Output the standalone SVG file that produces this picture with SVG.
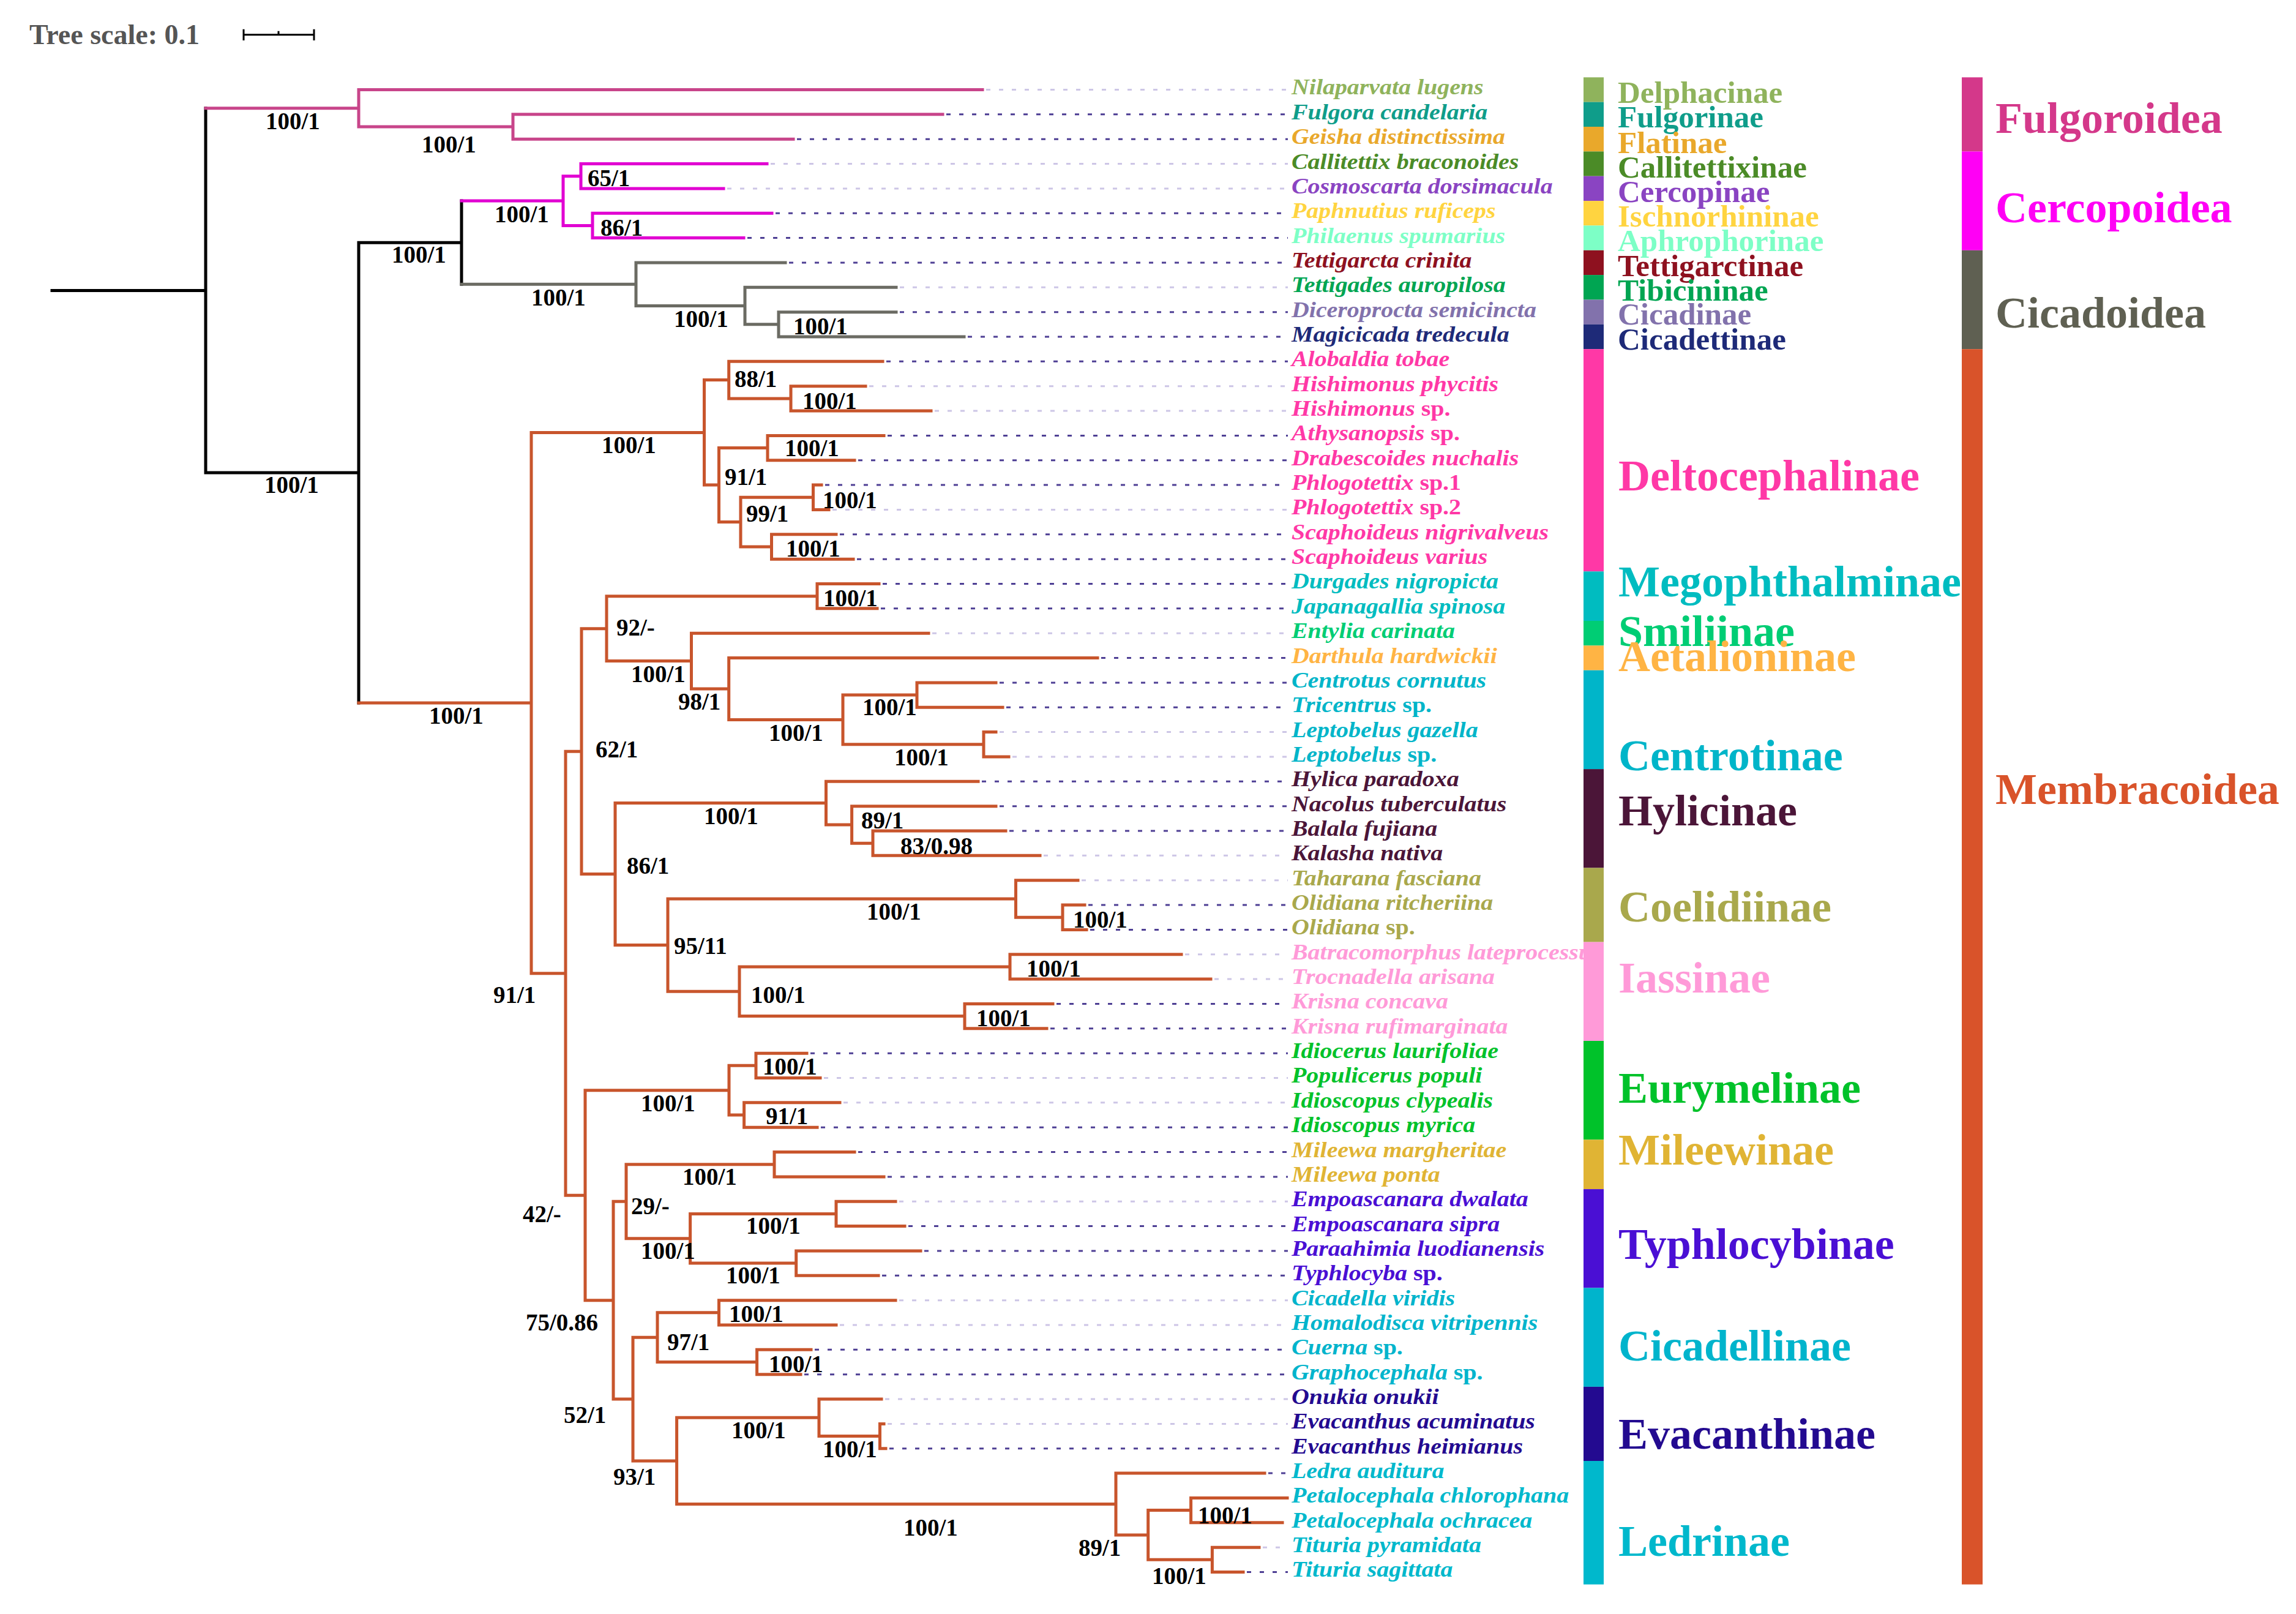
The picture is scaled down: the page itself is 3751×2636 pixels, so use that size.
<svg xmlns="http://www.w3.org/2000/svg" width="3751" height="2636" viewBox="0 0 3751 2636">
<style>
.t{font-family:"Liberation Serif","Times New Roman",serif;font-weight:bold}
.sp{font-family:"Liberation Serif","Times New Roman",serif;font-weight:bold;font-style:italic;font-size:35px}
.up{font-style:normal}
.bs{font-family:"Liberation Serif","Times New Roman",serif;font-weight:bold;font-size:39px;fill:#000}
.sf{font-size:51px}
.sl{font-size:72px}
.br{fill:none;stroke-width:5;stroke-linecap:square}
.blk{stroke:#000}
.fulgb{stroke:#c8458a}
.cercb{stroke:#e100d2}
.cicb{stroke:#6b6b63}
.memb{stroke:#c8552c}
.ld{fill:none;stroke-width:3;stroke-dasharray:7 14}
.dk{stroke:#4e3f94}
.lt{stroke:#cdc6e6}
.delph{fill:#8fb35c}.fulg{fill:#0f9d8a}.flat{fill:#e9a82b}.calli{fill:#4b8b27}.cerc{fill:#8a44c2}
.ischn{fill:#ffd440}.aphro{fill:#7dffc6}.tettig{fill:#8e111f}.tibic{fill:#00a552}.cicad{fill:#8272ac}
.cicadet{fill:#1e2a78}.delto{fill:#ff38a6}.mego{fill:#00bcc0}.smil{fill:#00cd74}.aet{fill:#ffb444}
.centro{fill:#00b5c9}.hyl{fill:#4b1538}.coel{fill:#a9a84c}.iass{fill:#ff9ad8}.eury{fill:#00c22a}
.mil{fill:#e0b434}.typh{fill:#4a0fd4}.cicadel{fill:#00b4cc}.evac{fill:#230a90}.ledr{fill:#00b8cc}
.sFul{fill:#d4388a}.sCer{fill:#ff00f5}.sCic{fill:#5f6052}.sMem{fill:#d9532a}
</style>
<rect width="3751" height="2636" fill="#fff"/>
<g id="tree-scale">
<text class="t" x="48" y="72" font-size="46" fill="#555">Tree scale: 0.1</text>
<path d="M398,56.7 H513 M398,47.7 V66 M513,47.7 V66 M455,50.7 V56.7" stroke="#000" stroke-width="3" fill="none"/>
</g>
<g id="connectors">
<g id="leaders">
<path class="ld lt" d="M1611,146.5H2104M1259,267.55H2104M1188,307.9H2104M1470,469.3H2104M1420,630.7H2104M1527,671.05H2104M1360,832.45H2104M1523,1034.2H2104M1633,1195.6H2104M1654,1235.95H2104M1705,1397.35H2104M1767,1437.7H2104M1936,1558.75H2104M1984,1599.1H2104M1346,1760.5H2104M1378,1800.85H2104M1469,1962.25H2104M1469,2123.65H2104M1372,2164H2104M1446,2285.05H2104M1450,2325.4H2104M2063,2527.15H2104"/>
<path class="ld dk" d="M1546,186.85H2104M1302,227.2H2104M1267,348.25H2104M1221,388.6H2104M1289,428.95H2104M1470,509.65H2104M1581,550H2104M1448,590.35H2104M1450,711.4H2104M1402,751.75H2104M1348,792.1H2104M1372,872.8H2104M1400,913.15H2104M1442,953.5H2104M1439,993.85H2104M1799,1074.55H2104M1633,1114.9H2104M1644,1155.25H2104M1604,1276.3H2104M1633,1316.65H2104M1649,1357H2104M1778,1478.05H2104M1781,1518.4H2104M1726,1639.45H2104M1716,1679.8H2104M1324,1720.15H2104M1341,1841.2H2104M1402,1881.55H2104M1450,1921.9H2104M1484,2002.6H2104M1510,2042.95H2104M1441,2083.3H2104M1331,2204.35H2104M1314,2244.7H2104M1453,2365.75H2104M2072,2406.1H2104M2037,2567.5H2104"/>
</g>
<path id="branches-root" class="br blk" d="M85,474.4H336M336,176.75V772.1M336,772.1H586M586,396.2V1148M586,396.2H754M754,328.1V464.3"/>
<path id="branches-fulgoroidea" class="br fulgb" d="M336,176.75H586M586,146.5V207M586,146.5H1605M586,207H838M838,186.85V227.2M838,186.85H1540M838,227.2H1296"/>
<path id="branches-cercopoidea" class="br cercb" d="M754,328.1H920M920,287.7V368.4M920,287.7H949M949,267.55V307.9M949,267.55H1253M949,307.9H1182M920,368.4H968M968,348.25V388.6M968,348.25H1261M968,388.6H1215"/>
<path id="branches-cicadoidea" class="br cicb" d="M754,464.3H1039M1039,428.95V499.6M1039,428.95H1283M1039,499.6H1217M1217,469.3V529.8M1217,469.3H1464M1217,529.8H1272M1272,509.65V550M1272,509.65H1464M1272,550H1575"/>
<path id="branches-membracoidea" class="br memb" d="M586,1148H868M868,706.4V1589.7M868,706.4H1150.5M1150.5,620.6V792.1M1150.5,620.6H1190.7M1190.7,590.35V650.9M1190.7,590.35H1442M1190.7,650.9H1292M1292,630.7V671.05M1292,630.7H1414M1292,671.05H1521M1150.5,792.1H1174.5M1174.5,731.6V852.6M1174.5,731.6H1254M1254,711.4V751.75M1254,711.4H1444M1254,751.75H1396M1174.5,852.6H1210M1210,812.3V893M1210,812.3H1328.5M1328.5,792.1V832.45M1328.5,792.1H1342M1328.5,832.45H1354M1210,893H1260.5M1260.5,872.8V913.15M1260.5,872.8H1366M1260.5,913.15H1394
M868,1589.7H924M924,1227.2V1952.2M924,1227.2H950M950,1026.7V1427.6M950,1026.7H991M991,973.7V1079.6M991,973.7H1335M1335,953.5V993.85M1335,953.5H1436M1335,993.85H1433M991,1079.6H1129.5M1129.5,1034.2V1125M1129.5,1034.2H1517M1129.5,1125H1190.7M1190.7,1074.55V1175.4M1190.7,1074.55H1793M1190.7,1175.4H1377M1377,1135.1V1215.8M1377,1135.1H1498M1498,1114.9V1155.25M1498,1114.9H1627M1498,1155.25H1638M1377,1215.8H1607M1607,1195.6V1235.95M1607,1195.6H1627M1607,1235.95H1648
M950,1427.6H1005M1005,1311.6V1543.6M1005,1311.6H1349.5M1349.5,1276.3V1346.9M1349.5,1276.3H1598M1349.5,1346.9H1391.6M1391.6,1316.65V1377.2M1391.6,1316.65H1627M1391.6,1377.2H1426M1426,1357V1397.35M1426,1357H1643M1426,1397.35H1699M1005,1543.6H1091M1091,1468V1619.3M1091,1468H1659.5M1659.5,1437.7V1498.2M1659.5,1437.7H1761M1659.5,1498.2H1736M1736,1478.05V1518.4M1736,1478.05H1772M1736,1518.4H1775M1091,1619.3H1208M1208,1578.9V1659.6M1208,1578.9H1650M1650,1558.75V1599.1M1650,1558.75H1930M1650,1599.1H1978M1208,1659.6H1576M1576,1639.45V1679.8M1576,1639.45H1720M1576,1679.8H1710
M924,1952.2H956M956,1780.7V2123.7M956,1780.7H1191M1191,1740.3V1821M1191,1740.3H1235M1235,1720.15V1760.5M1235,1720.15H1318M1235,1760.5H1340M1191,1821H1215.6M1215.6,1800.85V1841.2M1215.6,1800.85H1372M1215.6,1841.2H1335
M956,2123.7H1002M1002,1962.3V2285M1002,1962.3H1023M1023,1901.7V2022.8M1023,1901.7H1265M1265,1881.55V1921.9M1265,1881.55H1396M1265,1921.9H1444M1023,2022.8H1127.6M1127.6,1982.4V2063.1M1127.6,1982.4H1366M1366,1962.25V2002.6M1366,1962.25H1463M1366,2002.6H1478M1127.6,2063.1H1300.7M1300.7,2042.95V2083.3M1300.7,2042.95H1504M1300.7,2083.3H1435
M1002,2285H1034M1034,2184.2V2385.9M1034,2184.2H1074M1074,2143.8V2224.5M1074,2143.8H1174.5M1174.5,2123.65V2164M1174.5,2123.65H1463M1174.5,2164H1366M1074,2224.5H1236.6M1236.6,2204.35V2244.7M1236.6,2204.35H1325M1236.6,2244.7H1308
M1034,2385.9H1105.6M1105.6,2315.3V2456.5M1105.6,2315.3H1338M1338,2285.05V2345.6M1338,2285.05H1440M1338,2345.6H1437.5M1437.5,2325.4V2365.75M1437.5,2325.4H1444M1437.5,2365.75H1447M1105.6,2456.5H1823M1823,2406.1V2507M1823,2406.1H2066M1823,2507H1875.7M1875.7,2466.6V2547.3M1875.7,2466.6H1945.6M1945.6,2446.45V2486.8M1945.6,2446.45H2103M1945.6,2486.8H2095M1875.7,2547.3H1980.4M1980.4,2527.15V2567.5M1980.4,2527.15H2057M1980.4,2567.5H2031"/>
</g>
<g id="support-values" class="bs">
<text x="434" y="211">100/1</text><text x="689" y="249">100/1</text><text x="960" y="304">65/1</text><text x="808" y="363">100/1</text><text x="981" y="385">86/1</text><text x="640" y="429">100/1</text><text x="868" y="499">100/1</text><text x="1101" y="534">100/1</text><text x="1296" y="546">100/1</text><text x="432" y="805">100/1</text>
<text x="701" y="1182">100/1</text><text x="983" y="740">100/1</text><text x="1200" y="632">88/1</text><text x="1311" y="668">100/1</text><text x="1282" y="745">100/1</text><text x="1184" y="792">91/1</text><text x="1344" y="830">100/1</text><text x="1219" y="852">99/1</text><text x="1284" y="909">100/1</text>
<text x="1345" y="990">100/1</text><text x="1007" y="1038">92/-</text><text x="1031" y="1114">100/1</text><text x="1108" y="1159">98/1</text><text x="1256" y="1210">100/1</text><text x="1409" y="1168">100/1</text><text x="1461" y="1250">100/1</text><text x="973" y="1237">62/1</text>
<text x="1150" y="1346">100/1</text><text x="1407" y="1353">89/1</text><text x="1471" y="1395">83/0.98</text><text x="1024" y="1427">86/1</text><text x="1416" y="1502">100/1</text><text x="1753" y="1515">100/1</text><text x="1101" y="1558">95/11</text><text x="1677" y="1595">100/1</text><text x="1227" y="1638">100/1</text><text x="1595" y="1676">100/1</text><text x="806" y="1638">91/1</text><text x="1246" y="1755">100/1</text>
<text x="1047" y="1815">100/1</text><text x="1251" y="1836">91/1</text><text x="854" y="1996">42/-</text><text x="1115" y="1935">100/1</text><text x="1031" y="1983">29/-</text><text x="1219" y="2015">100/1</text><text x="1047" y="2056">100/1</text><text x="1186" y="2096">100/1</text><text x="859" y="2173">75/0.86</text><text x="1191" y="2159">100/1</text><text x="1090" y="2205">97/1</text><text x="1256" y="2241">100/1</text>
<text x="921" y="2324">52/1</text><text x="1195" y="2349">100/1</text><text x="1344" y="2380">100/1</text><text x="1002" y="2425">93/1</text><text x="1476" y="2508">100/1</text><text x="1762" y="2541">89/1</text><text x="1957" y="2488">100/1</text><text x="1882" y="2587">100/1</text>
</g>
<g id="taxa" class="sp" transform="matrix(1.14 0 0 1 2110 0)">
<g id="leaf-01"><text class="delph" x="0" y="154.5">Nilaparvata lugens</text></g>
<g id="leaf-02"><text class="fulg" x="0" y="194.9">Fulgora candelaria</text></g>
<g id="leaf-03"><text class="flat" x="0" y="235.2">Geisha distinctissima</text></g>
<g id="leaf-04"><text class="calli" x="0" y="275.6">Callitettix braconoides</text></g>
<g id="leaf-05"><text class="cerc" x="0" y="315.9">Cosmoscarta dorsimacula</text></g>
<g id="leaf-06"><text class="ischn" x="0" y="356.3">Paphnutius ruficeps</text></g>
<g id="leaf-07"><text class="aphro" x="0" y="396.6">Philaenus spumarius</text></g>
<g id="leaf-08"><text class="tettig" x="0" y="437">Tettigarcta crinita</text></g>
<g id="leaf-09"><text class="tibic" x="0" y="477.3">Tettigades auropilosa</text></g>
<g id="leaf-10"><text class="cicad" x="0" y="517.7">Diceroprocta semicincta</text></g>
<g id="leaf-11"><text class="cicadet" x="0" y="558">Magicicada tredecula</text></g>
<g id="leaf-12"><text class="delto" x="0" y="598.4">Alobaldia tobae</text></g>
<g id="leaf-13"><text class="delto" x="0" y="638.7">Hishimonus phycitis</text></g>
<g id="leaf-14"><text class="delto" x="0" y="679.1">Hishimonus <tspan class="up">sp.</tspan></text></g>
<g id="leaf-15"><text class="delto" x="0" y="719.4">Athysanopsis <tspan class="up">sp.</tspan></text></g>
<g id="leaf-16"><text class="delto" x="0" y="759.8">Drabescoides nuchalis</text></g>
<g id="leaf-17"><text class="delto" x="0" y="800.1">Phlogotettix <tspan class="up">sp.1</tspan></text></g>
<g id="leaf-18"><text class="delto" x="0" y="840.5">Phlogotettix <tspan class="up">sp.2</tspan></text></g>
<g id="leaf-19"><text class="delto" x="0" y="880.8">Scaphoideus nigrivalveus</text></g>
<g id="leaf-20"><text class="delto" x="0" y="921.2">Scaphoideus varius</text></g>
<g id="leaf-21"><text class="mego" x="0" y="961.5">Durgades nigropicta</text></g>
<g id="leaf-22"><text class="mego" x="0" y="1001.9">Japanagallia spinosa</text></g>
<g id="leaf-23"><text class="smil" x="0" y="1042.2">Entylia carinata</text></g>
<g id="leaf-24"><text class="aet" x="0" y="1082.6">Darthula hardwickii</text></g>
<g id="leaf-25"><text class="centro" x="0" y="1122.9">Centrotus cornutus</text></g>
<g id="leaf-26"><text class="centro" x="0" y="1163.3">Tricentrus <tspan class="up">sp.</tspan></text></g>
<g id="leaf-27"><text class="centro" x="0" y="1203.6">Leptobelus gazella</text></g>
<g id="leaf-28"><text class="centro" x="0" y="1244">Leptobelus <tspan class="up">sp.</tspan></text></g>
<g id="leaf-29"><text class="hyl" x="0" y="1284.3">Hylica paradoxa</text></g>
<g id="leaf-30"><text class="hyl" x="0" y="1324.7">Nacolus tuberculatus</text></g>
<g id="leaf-31"><text class="hyl" x="0" y="1365">Balala fujiana</text></g>
<g id="leaf-32"><text class="hyl" x="0" y="1405.4">Kalasha nativa</text></g>
<g id="leaf-33"><text class="coel" x="0" y="1445.7">Taharana fasciana</text></g>
<g id="leaf-34"><text class="coel" x="0" y="1486.1">Olidiana ritcheriina</text></g>
<g id="leaf-35"><text class="coel" x="0" y="1526.4">Olidiana <tspan class="up">sp.</tspan></text></g>
<g id="leaf-36"><text class="iass" x="0" y="1566.8">Batracomorphus lateprocessus</text></g>
<g id="leaf-37"><text class="iass" x="0" y="1607.1">Trocnadella arisana</text></g>
<g id="leaf-38"><text class="iass" x="0" y="1647.5">Krisna concava</text></g>
<g id="leaf-39"><text class="iass" x="0" y="1687.8">Krisna rufimarginata</text></g>
<g id="leaf-40"><text class="eury" x="0" y="1728.2">Idiocerus laurifoliae</text></g>
<g id="leaf-41"><text class="eury" x="0" y="1768.5">Populicerus populi</text></g>
<g id="leaf-42"><text class="eury" x="0" y="1808.9">Idioscopus clypealis</text></g>
<g id="leaf-43"><text class="eury" x="0" y="1849.2">Idioscopus myrica</text></g>
<g id="leaf-44"><text class="mil" x="0" y="1889.6">Mileewa margheritae</text></g>
<g id="leaf-45"><text class="mil" x="0" y="1929.9">Mileewa ponta</text></g>
<g id="leaf-46"><text class="typh" x="0" y="1970.3">Empoascanara dwalata</text></g>
<g id="leaf-47"><text class="typh" x="0" y="2010.6">Empoascanara sipra</text></g>
<g id="leaf-48"><text class="typh" x="0" y="2051">Paraahimia luodianensis</text></g>
<g id="leaf-49"><text class="typh" x="0" y="2091.3">Typhlocyba <tspan class="up">sp.</tspan></text></g>
<g id="leaf-50"><text class="cicadel" x="0" y="2131.7">Cicadella viridis</text></g>
<g id="leaf-51"><text class="cicadel" x="0" y="2172">Homalodisca vitripennis</text></g>
<g id="leaf-52"><text class="cicadel" x="0" y="2212.4">Cuerna <tspan class="up">sp.</tspan></text></g>
<g id="leaf-53"><text class="cicadel" x="0" y="2252.7">Graphocephala <tspan class="up">sp.</tspan></text></g>
<g id="leaf-54"><text class="evac" x="0" y="2293.1">Onukia onukii</text></g>
<g id="leaf-55"><text class="evac" x="0" y="2333.4">Evacanthus acuminatus</text></g>
<g id="leaf-56"><text class="evac" x="0" y="2373.8">Evacanthus heimianus</text></g>
<g id="leaf-57"><text class="ledr" x="0" y="2414.1">Ledra auditura</text></g>
<g id="leaf-58"><text class="ledr" x="0" y="2454.5">Petalocephala chlorophana</text></g>
<g id="leaf-59"><text class="ledr" x="0" y="2494.8">Petalocephala ochracea</text></g>
<g id="leaf-60"><text class="ledr" x="0" y="2535.2">Tituria pyramidata</text></g>
<g id="leaf-61"><text class="ledr" x="0" y="2575.5">Tituria sagittata</text></g>
</g>
<g id="subfamilies" class="t">
<g id="sub-delphacinae"><rect class="delph" x="2587" y="126.3" width="33" height="40.4"/><text class="delph sf" x="2643" y="168">Delphacinae</text></g>
<g id="sub-fulgorinae"><rect class="fulg" x="2587" y="166.7" width="33" height="40.3"/><text class="fulg sf" x="2643" y="208">Fulgorinae</text></g>
<g id="sub-flatinae"><rect class="flat" x="2587" y="207" width="33" height="40.4"/><text class="flat sf" x="2643" y="250">Flatinae</text></g>
<g id="sub-callitettixinae"><rect class="calli" x="2587" y="247.4" width="33" height="40.3"/><text class="calli sf" x="2643" y="290">Callitettixinae</text></g>
<g id="sub-cercopinae"><rect class="cerc" x="2587" y="287.7" width="33" height="40.4"/><text class="cerc sf" x="2643" y="330">Cercopinae</text></g>
<g id="sub-ischnorhininae"><rect class="ischn" x="2587" y="328.1" width="33" height="40.3"/><text class="ischn sf" x="2643" y="370">Ischnorhininae</text></g>
<g id="sub-aphrophorinae"><rect class="aphro" x="2587" y="368.4" width="33" height="40.4"/><text class="aphro sf" x="2643" y="410">Aphrophorinae</text></g>
<g id="sub-tettigarctinae"><rect class="tettig" x="2587" y="408.8" width="33" height="40.3"/><text class="tettig sf" x="2643" y="451">Tettigarctinae</text></g>
<g id="sub-tibicininae"><rect class="tibic" x="2587" y="449.1" width="33" height="40.4"/><text class="tibic sf" x="2643" y="491">Tibicininae</text></g>
<g id="sub-cicadinae"><rect class="cicad" x="2587" y="489.5" width="33" height="40.3"/><text class="cicad sf" x="2643" y="530">Cicadinae</text></g>
<g id="sub-cicadettinae"><rect class="cicadet" x="2587" y="529.8" width="33" height="40.4"/><text class="cicadet sf" x="2643" y="571">Cicadettinae</text></g>
<g id="sub-deltocephalinae"><rect class="delto" x="2587" y="570.2" width="33" height="363.1"/><text class="delto sl" x="2644" y="801">Deltocephalinae</text></g>
<g id="sub-megophthalminae"><rect class="mego" x="2587" y="933.3" width="33" height="80.7"/><text class="mego sl" x="2644" y="974">Megophthalminae</text></g>
<g id="sub-smiliinae"><rect class="smil" x="2587" y="1014" width="33" height="40.4"/><text class="smil sl" x="2644" y="1055">Smiliinae</text></g>
<g id="sub-aetalioninae"><rect class="aet" x="2587" y="1054.4" width="33" height="40.3"/><text class="aet sl" x="2644" y="1096">Aetalioninae</text></g>
<g id="sub-centrotinae"><rect class="centro" x="2587" y="1094.7" width="33" height="161.4"/><text class="centro sl" x="2644" y="1258">Centrotinae</text></g>
<g id="sub-hylicinae"><rect class="hyl" x="2587" y="1256.1" width="33" height="161.4"/><text class="hyl sl" x="2644" y="1348">Hylicinae</text></g>
<g id="sub-coelidiinae"><rect class="coel" x="2587" y="1417.5" width="33" height="121.1"/><text class="coel sl" x="2644" y="1505">Coelidiinae</text></g>
<g id="sub-iassinae"><rect class="iass" x="2587" y="1538.6" width="33" height="161.4"/><text class="iass sl" x="2644" y="1621">Iassinae</text></g>
<g id="sub-eurymelinae"><rect class="eury" x="2587" y="1700" width="33" height="161.4"/><text class="eury sl" x="2644" y="1801">Eurymelinae</text></g>
<g id="sub-mileewinae"><rect class="mil" x="2587" y="1861.4" width="33" height="80.7"/><text class="mil sl" x="2644" y="1902">Mileewinae</text></g>
<g id="sub-typhlocybinae"><rect class="typh" x="2587" y="1942.1" width="33" height="161.4"/><text class="typh sl" x="2644" y="2056">Typhlocybinae</text></g>
<g id="sub-cicadellinae"><rect class="cicadel" x="2587" y="2103.5" width="33" height="161.4"/><text class="cicadel sl" x="2644" y="2222">Cicadellinae</text></g>
<g id="sub-evacanthinae"><rect class="evac" x="2587" y="2264.9" width="33" height="121.1"/><text class="evac sl" x="2644" y="2366">Evacanthinae</text></g>
<g id="sub-ledrinae"><rect class="ledr" x="2587" y="2386" width="33" height="201.7"/><text class="ledr sl" x="2644" y="2541">Ledrinae</text></g>
</g>
<g id="superfamilies" class="t">
<g id="sup-fulgoroidea"><rect class="sFul" x="3205" y="126.3" width="34" height="121.1"/><text class="sFul sl" x="3260" y="217">Fulgoroidea</text></g>
<g id="sup-cercopoidea"><rect class="sCer" x="3205" y="247.4" width="34" height="161.4"/><text class="sCer sl" x="3260" y="363">Cercopoidea</text></g>
<g id="sup-cicadoidea"><rect class="sCic" x="3205" y="408.8" width="34" height="161.4"/><text class="sCic sl" x="3260" y="535">Cicadoidea</text></g>
<g id="sup-membracoidea"><rect class="sMem" x="3205" y="570.2" width="34" height="2017.5"/><text class="sMem sl" x="3260" y="1313">Membracoidea</text></g>
</g>
</svg>
